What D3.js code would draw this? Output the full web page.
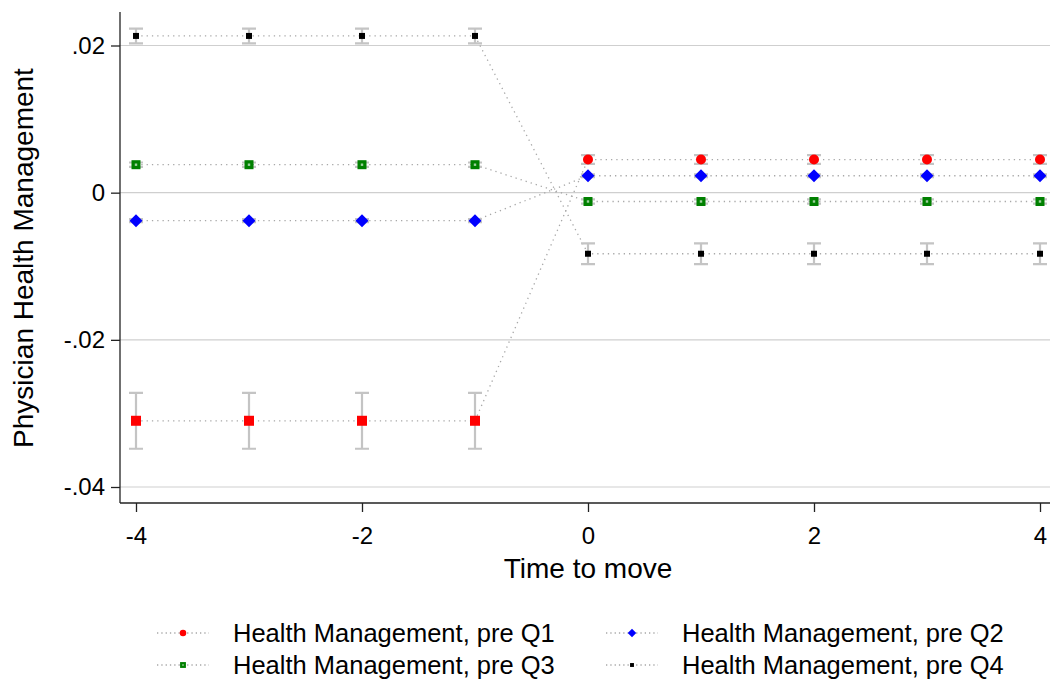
<!DOCTYPE html>
<html>
<head>
<meta charset="utf-8">
<script src="https://cdn.jsdelivr.net/npm/d3@7"></script>
<style>
  body { margin: 0; background: #fff; }
  svg text { font-family: "Liberation Sans", Arial, sans-serif; fill: #000; }
</style>
</head>
<body>
<div id="chart"></div>
<script>
const times = [-4, -3, -2, -1, 0, 1, 2, 3, 4];

// point estimates
const q1 = [-0.0310, -0.0310, -0.0310, -0.0310, 0.0045, 0.0045, 0.0045, 0.0045, 0.0045];
const q2 = [-0.0038, -0.0038, -0.0038, -0.0038, 0.0023, 0.0023, 0.0023, 0.0023, 0.0023];
const q3 = [0.0038, 0.0038, 0.0038, 0.0038, -0.0012, -0.0012, -0.0012, -0.0012, -0.0012];
const q4 = [0.0213, 0.0213, 0.0213, 0.0213, -0.0083, -0.0083, -0.0083, -0.0083, -0.0083];

// confidence intervals (lo / hi)
const q1Lo = [-0.0348, -0.0348, -0.0348, -0.0348, 0.0039, 0.0039, 0.0039, 0.0039, 0.0039];
const q1Hi = [-0.0272, -0.0272, -0.0272, -0.0272, 0.0051, 0.0051, 0.0051, 0.0051, 0.0051];
const q2Lo = [-0.0040, -0.0040, -0.0040, -0.0040, 0.0021, 0.0021, 0.0021, 0.0021, 0.0021];
const q2Hi = [-0.0036, -0.0036, -0.0036, -0.0036, 0.0025, 0.0025, 0.0025, 0.0025, 0.0025];
const q3Lo = [0.0035, 0.0035, 0.0035, 0.0035, -0.0015, -0.0015, -0.0015, -0.0015, -0.0015];
const q3Hi = [0.0041, 0.0041, 0.0041, 0.0041, -0.0009, -0.0009, -0.0009, -0.0009, -0.0009];
const q4Lo = [0.0203, 0.0203, 0.0203, 0.0203, -0.0097, -0.0097, -0.0097, -0.0097, -0.0097];
const q4Hi = [0.0223, 0.0223, 0.0223, 0.0223, -0.0069, -0.0069, -0.0069, -0.0069, -0.0069];

const seriesNames = ['Health Management, pre Q1', 'Health Management, pre Q2',
                     'Health Management, pre Q3', 'Health Management, pre Q4'];
const xTicks = [-4, -2, 0, 2, 4];
const yTicks = [0.02, 0, -0.02, -0.04];

const W = 1050, H = 686;
const margin = {top: 12, right: 10, bottom: 183, left: 120};

const svg = d3.select('#chart').append('svg')
    .attr('width', W)
    .attr('height', H);

const x = d3.scaleLinear().domain([-4, 4]).range([136, 1040]);
const y = d3.scaleLinear().domain([-0.04, 0.02]).range([487, 45.5]);

const series = [
  {name: seriesNames[0], vals: q1, lo: q1Lo, hi: q1Hi, color: '#ff0000', shape: 'circle'},
  {name: seriesNames[1], vals: q2, lo: q2Lo, hi: q2Hi, color: '#0000ff', shape: 'diamond'},
  {name: seriesNames[2], vals: q3, lo: q3Lo, hi: q3Hi, color: '#008000', shape: 'hsquare'},
  {name: seriesNames[3], vals: q4, lo: q4Lo, hi: q4Hi, color: '#000000', shape: 'dot'}
];

// gridlines
svg.append('g').selectAll('line')
    .data(yTicks)
  .enter().append('line')
    .attr('x1', margin.left).attr('x2', W)
    .attr('y1', d => y(d)).attr('y2', d => y(d))
    .attr('stroke', '#cfcfcf').attr('stroke-width', 1.2);

// axes (Stata style: plain hyphen, no leading zero)
const xAxis = d3.axisBottom(x).tickValues(xTicks).tickSize(9).tickFormat(d => String(d));
const yFmt = d => d === 0 ? '0' : String(d).replace('0.', '.');
const yAxis = d3.axisLeft(y).tickValues(yTicks).tickSize(9).tickFormat(yFmt);

const gx = svg.append('g')
    .attr('transform', 'translate(0,503)')
    .call(xAxis);
gx.select('.domain').attr('d', `M${margin.left},0H${W}`).attr('stroke', '#222').attr('stroke-width', 1.3);
gx.selectAll('.tick line').attr('stroke', '#222').attr('stroke-width', 1.3);
gx.selectAll('.tick text').attr('font-size', 24).attr('dy', null).attr('y', 41);

const gy = svg.append('g')
    .attr('transform', `translate(${margin.left},0)`)
    .call(yAxis);
gy.select('.domain').attr('d', `M0,${margin.top}V503`).attr('stroke', '#222').attr('stroke-width', 1.3);
gy.selectAll('.tick line').attr('stroke', '#222').attr('stroke-width', 1.3);
gy.selectAll('.tick text').attr('font-size', 24).attr('x', -15);

svg.append('text')
    .attr('x', 588).attr('y', 578)
    .attr('text-anchor', 'middle')
    .attr('font-size', 28)
    .text('Time to move');

svg.append('text')
    .attr('transform', 'translate(33,258) rotate(-90)')
    .attr('text-anchor', 'middle')
    .attr('font-size', 28)
    .text('Physician Health Management');

// connecting dotted lines
const line = d3.line()
    .x((d, i) => x(times[i]))
    .y(d => y(d));

svg.append('g').selectAll('path')
    .data(series)
  .enter().append('path')
    .attr('d', d => line(d.vals))
    .attr('fill', 'none')
    .attr('stroke', '#a8a8a8')
    .attr('stroke-width', 1.3)
    .attr('stroke-dasharray', '1.3,4');

// error bars
const capW = 7;
series.forEach(s => {
  const g = svg.append('g')
      .attr('stroke', '#c4c4c4')
      .attr('stroke-width', 2.2)
      .attr('fill', 'none');
  const pts = times.map((t, i) => ({t, lo: s.lo[i], hi: s.hi[i]}));
  g.selectAll('path')
      .data(pts)
    .enter().append('path')
      .attr('d', d => `M${x(d.t) - capW},${y(d.hi)}H${x(d.t) + capW}M${x(d.t)},${y(d.hi)}V${y(d.lo)}M${x(d.t) - capW},${y(d.lo)}H${x(d.t) + capW}`);
});

function drawMarker(g, shape, color, cx, cy, scale) {
  const k = scale || 1;
  if (shape === 'circle') {
    g.append('circle').attr('cx', cx).attr('cy', cy).attr('r', 5 * k).attr('fill', color);
  } else if (shape === 'square') {
    g.append('rect').attr('x', cx - 5 * k).attr('y', cy - 5 * k)
        .attr('width', 10 * k).attr('height', 10 * k).attr('fill', color);
  } else if (shape === 'diamond') {
    const r = 6.5 * k;
    g.append('path').attr('d', `M${cx},${cy - r}L${cx + r},${cy}L${cx},${cy + r}L${cx - r},${cy}Z`)
        .attr('fill', color);
  } else if (shape === 'hsquare') {
    g.append('rect').attr('x', cx - 4.5 * k).attr('y', cy - 4.5 * k)
        .attr('width', 9 * k).attr('height', 9 * k).attr('fill', color);
    g.append('rect').attr('x', cx - 1.2 * k).attr('y', cy - 1.2 * k)
        .attr('width', 2.4 * k).attr('height', 2.4 * k).attr('fill', '#9fcf9f');
  } else {
    g.append('rect').attr('x', cx - 3 * k).attr('y', cy - 3 * k)
        .attr('width', 6 * k).attr('height', 6 * k).attr('fill', color);
  }
}

// markers (Q1 pre-period drawn as squares, as in the source)
const mg = svg.append('g');
series.forEach((s, si) => {
  s.vals.forEach((v, i) => {
    let shape = s.shape;
    if (si === 0 && times[i] < 0) shape = 'square';
    drawMarker(mg, shape, s.color, x(times[i]), y(v));
  });
});

// legend
const legendPos = [
  {lx: 157, ty: 633}, {lx: 606, ty: 633},
  {lx: 157, ty: 665}, {lx: 606, ty: 665}
];
const lg = svg.append('g');
series.forEach((s, i) => {
  const p = legendPos[i];
  lg.append('line')
      .attr('x1', p.lx).attr('x2', p.lx + 52)
      .attr('y1', p.ty).attr('y2', p.ty)
      .attr('stroke', '#a8a8a8').attr('stroke-width', 1.3)
      .attr('stroke-dasharray', '1.3,3');
  drawMarker(lg, s.shape, s.color, p.lx + 26, p.ty, 0.65);
  lg.append('text')
      .attr('x', p.lx + 76).attr('y', p.ty)
      .attr('dy', '0.35em')
      .attr('font-size', 25.5)
      .text(s.name);
});
</script>
</body>
</html>
